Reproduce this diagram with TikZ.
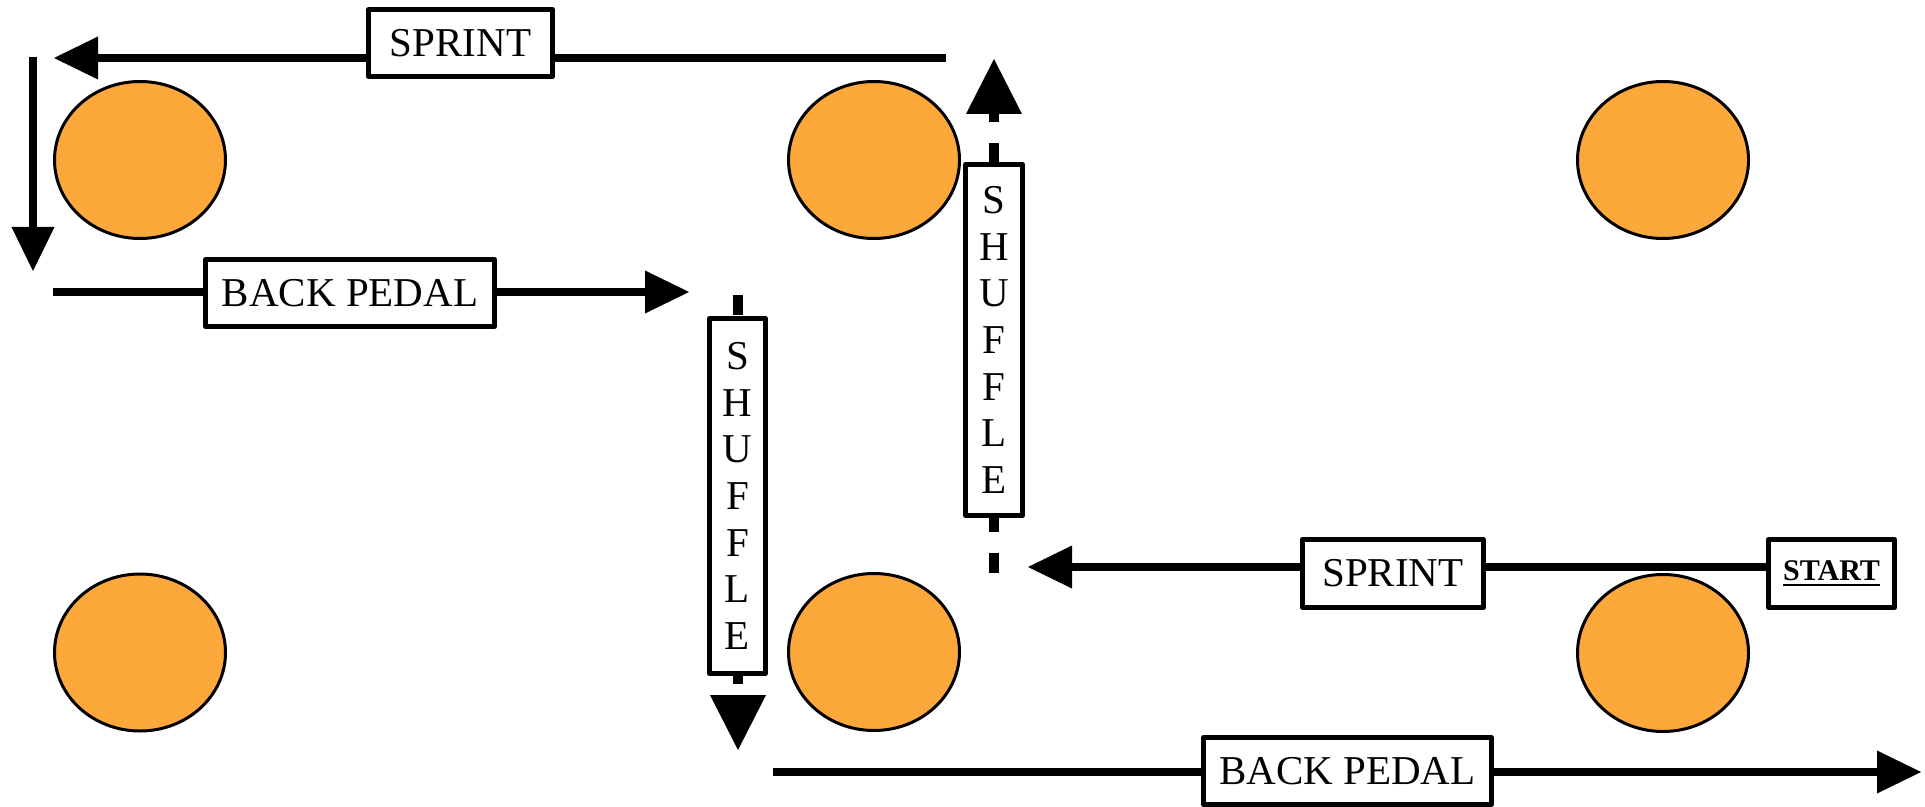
\documentclass[tikz,border=0pt]{standalone}
\usepackage{fontspec}
\setmainfont{Liberation Serif}
\usetikzlibrary{arrows.meta,shapes.geometric}
\definecolor{coneorange}{RGB}{253,168,58}
\tikzset{
  cone/.style={ellipse, draw=black, line width=1.5pt, fill=coneorange, inner sep=0pt,
    minimum width=85.5pt, minimum height=78.5pt},
  labelbox/.style={draw=black, line width=2.5pt, line join=round, fill=white, inner sep=0pt,
    font=\fontsize{20.5}{23.35}\selectfont, align=center},
  runline/.style={line width=4pt, -{Triangle[length=22pt, width=21.5pt, line width=0pt]}},
  shuffleline/.style={line width=5pt, dash pattern=on 10pt off 10.5pt,
    -{Triangle[length=27.5pt, width=28pt, line width=0pt]}}
}
\begin{document}
\begin{tikzpicture}[x=0.5pt, y=-0.5pt]
\useasboundingbox (0,0) rectangle (1925,807);

% cones
\node[cone] (c1) at (140,160) {};
\node[cone] (c2) at (874,160) {};
\node[cone] (c3) at (1663,160) {};
\node[cone] (c4) at (140,652.5) {};
\node[cone] (c5) at (874,652) {};
\node[cone] (c6) at (1663,653) {};

% end points
\coordinate (s1a) at (946,58);
\coordinate (s1b) at (54,58);
\coordinate (v1a) at (33,57);
\coordinate (v1b) at (33,271);
\coordinate (b1a) at (53,292);
\coordinate (b1b) at (689,292);
\coordinate (sh1a) at (738,295);
\coordinate (sh1b) at (738,750);
\coordinate (sh2a) at (994,573);
\coordinate (sh2b) at (994,59);
\coordinate (s2b) at (1028,567);
\coordinate (b2a) at (773,772);
\coordinate (b2b) at (1921,772);

% start box (needed for connector)
\node[labelbox, minimum width=63pt, minimum height=34pt,
  font=\fontsize{15}{18}\selectfont\bfseries] (start) at (1831.5,573.5)
  {\setbox0\hbox{START}\copy0\llap{\rule[-2.6pt]{\wd0}{1.1pt}}};

% connectors
\draw[runline] (s1a) -- (s1b);
\draw[runline] (v1a) -- (v1b);
\draw[runline] (b1a) -- (b1b);
\draw[shuffleline] (sh1a) -- (sh1b);
\draw[shuffleline] (sh2a) -- (sh2b);
\draw[runline] (start.west |- s2b) -- (s2b);
\draw[runline] (b2a) -- (b2b);

% label boxes
\node[labelbox, minimum width=92pt, minimum height=33.5pt] (sprintTop) at (460.5,43) {SPRINT};
\node[labelbox, minimum width=144.5pt, minimum height=33.5pt] (backTop) at (350,293) {BACK PEDAL};
\node[labelbox, minimum width=28pt, minimum height=177.5pt] (shufL) at (737.5,496) {S\\H\\U\\F\\F\\L\\E};
\node[labelbox, minimum width=28.5pt, minimum height=175.5pt] (shufR) at (994,340) {S\\H\\U\\F\\F\\L\\E};
\node[labelbox, minimum width=90.5pt, minimum height=34pt] (sprintR) at (1393,573.5) {SPRINT};
\node[labelbox, minimum width=144pt, minimum height=33.5pt] (backBot) at (1347.5,771) {BACK PEDAL};
\end{tikzpicture}
\end{document}
